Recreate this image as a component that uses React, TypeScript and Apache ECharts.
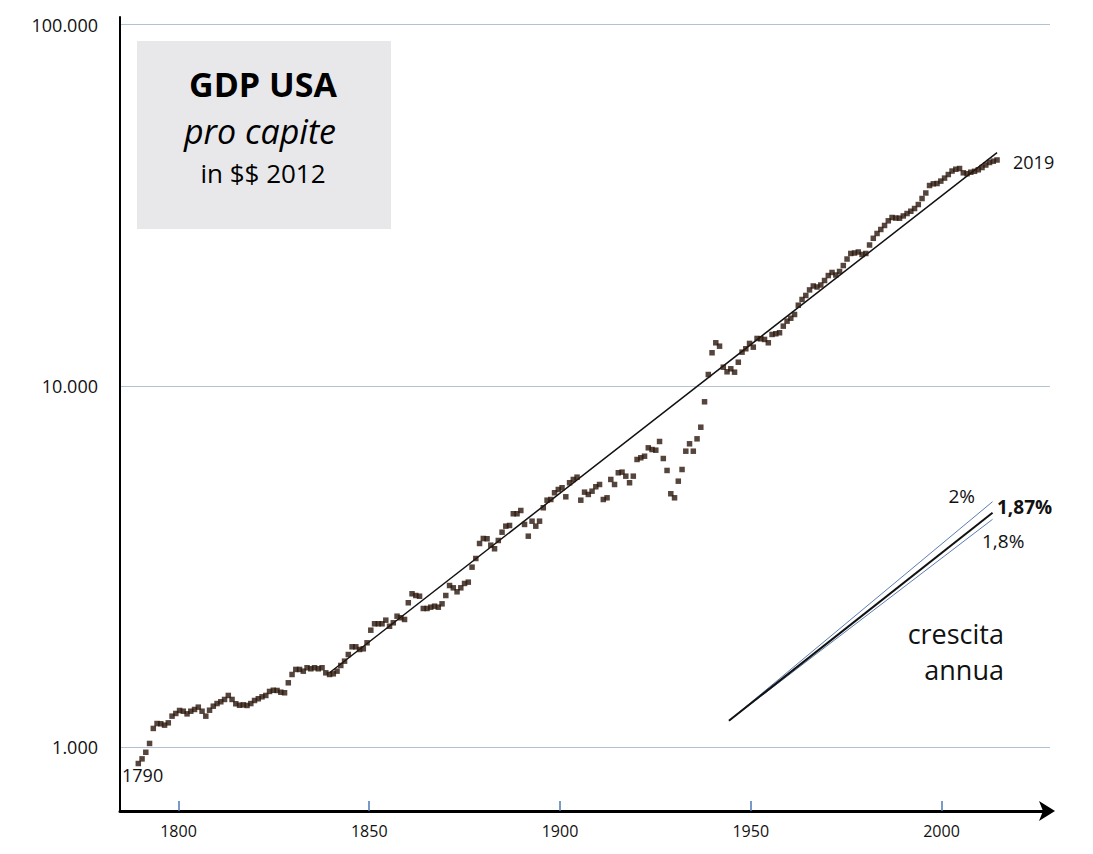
import React, { useEffect, useRef } from 'react';
import * as echarts from 'echarts';

const FONT = '"Open Sans", "Noto Sans", sans-serif';

// GDP per capita, 2012 dollars, one value a year from 1790
const firstYear = 1790;
const gdpPerCapita: number[] = [
  903, 930, 970, 1026, 1129, 1165, 1163, 1153, 1170, 1221,
  1242, 1266, 1260, 1239, 1260, 1274, 1293, 1260, 1221, 1268,
  1301, 1323, 1338, 1358, 1393, 1358, 1321, 1309, 1312, 1307,
  1323, 1349, 1364, 1381, 1393, 1429, 1440, 1438, 1422, 1417,
  1510, 1592, 1644, 1644, 1626, 1662, 1651, 1662, 1651, 1662,
  1609, 1592, 1599, 1626, 1686, 1733, 1808, 1899, 1899, 1867,
  1875, 1948, 2111, 2199, 2199, 2199, 2250, 2165, 2213, 2308,
  2285, 2260, 2514, 2662, 2633, 2621, 2424, 2424, 2444, 2460,
  2444, 2497, 2633, 2806, 2765, 2696, 2765, 2843, 2867, 3154,
  3333, 3667, 3786, 3779, 3628, 3546, 3738, 3941, 4095, 4113,
  4432, 4432, 4525, 4140, 3842, 4227, 4095, 4227, 4604, 4832,
  4853, 5066, 5173, 5230, 4937, 5399, 5514, 5595, 4832, 5086,
  5012, 5117, 5263, 5340, 4853, 4906, 5514, 5340, 5754, 5777,
  5631, 5399, 5631, 6262, 6330, 6394, 6745, 6672, 6644, 7023,
  6301, 5839, 5034, 4906, 5454, 5875, 6602, 6920, 6602, 7143,
  7691, 9043, 10760, 12357, 13169, 12887, 11272, 10947, 11158, 10920,
  11636, 12406, 12677, 13114, 12807, 13537, 13512, 13450, 13169, 13886,
  13948, 14037, 14640, 15114, 15400, 15770, 16730, 17350, 17800, 18440,
  18910, 18790, 19030, 19580, 20210, 20610, 20280, 20740, 21540, 22450,
  23260, 23330, 23480, 23110, 23260, 24550, 25620, 26420, 27100, 27800,
  28640, 29250, 29150, 29120, 29540, 30000, 30440, 30970, 31770, 33010,
  34190, 35860, 36250, 36320, 36880, 37590, 38460, 39320, 39780, 39960,
  38880, 38660, 39030, 39260, 39630, 40210, 40860, 41520, 41870, 42190,
];

// long run trend (about 1.87% a year)
const trendLine: number[][] = [[1841, 1610], [2019, 44200]];

// slope guides in the lower right
const rate2: number[][] = [[1947.5, 1186], [2017.8, 4786]];
const rate187: number[][] = [[1947.5, 1186], [2017.8, 4462]];
const rate18: number[][] = [[1947.5, 1186], [2017.8, 4278]];

const xTicks: number[] = [1800, 1850, 1900, 1950, 2000];

const App: React.FC = () => {
  const chartRef = useRef<HTMLDivElement | null>(null);

  useEffect(() => {
    const chart = echarts.init(chartRef.current!, null, { renderer: 'svg' });

    const points = gdpPerCapita.map((v, i) => [firstYear + i, v]);
    const dots = (n: number) =>
      String(Math.round(n)).replace(/\B(?=(\d{3})+(?!\d))/g, '.');

    const label = (
      x: number,
      y: number,
      t: string,
      size: number,
      extra: Record<string, any> = {}
    ) => ({
      type: 'text',
      x,
      y,
      z: 10,
      style: {
        text: t,
        fill: '#111',
        fontFamily: FONT,
        fontSize: size,
        lineHeight: size,
        textVerticalAlign: 'middle',
        ...extra,
      },
    });

    const option: any = {
      animation: false,
      grid: { left: 120, top: 17, width: 930, height: 794 },
      xAxis: [
        {
          type: 'value',
          min: 1784.67,
          max: 2028.44,
          axisLine: {
            lineStyle: { color: '#000', width: 3 },
            symbol: ['none', 'arrow'],
            symbolSize: [15, 16],
            symbolOffset: [0, 5],
          },
          axisTick: {
            customValues: xTicks,
            inside: true,
            length: 10,
            lineStyle: { color: '#4a78b5', width: 1.5 },
          },
          axisLabel: {
            customValues: xTicks,
            formatter: (v: number) => String(v),
            fontSize: 16,
            fontFamily: FONT,
            color: '#111',
            margin: 12,
          },
          splitLine: { show: false },
        },
        {
          type: 'value',
          min: 1785.12,
          max: 2033.12,
          show: false,
        },
      ],
      yAxis: {
        type: 'log',
        logBase: 10,
        min: 667.3,
        max: 104894,
        axisLine: { show: true, lineStyle: { color: '#000', width: 2 } },
        axisTick: { show: false },
        axisLabel: {
          formatter: (v: number) => dots(v),
          showMinLabel: false,
          showMaxLabel: false,
          fontSize: 18,
          fontFamily: FONT,
          color: '#111',
          margin: 22,
        },
        splitLine: {
          show: true,
          showMinLine: false,
          showMaxLine: false,
          lineStyle: { color: '#b0c2d4', width: 1.2 },
        },
      },
      series: [
        {
          type: 'line',
          xAxisIndex: 1,
          data: trendLine,
          symbol: 'none',
          lineStyle: { color: '#111', width: 1.5 },
          z: 2,
        },
        {
          type: 'scatter',
          xAxisIndex: 1,
          data: points,
          symbol: 'rect',
          symbolSize: 5.5,
          itemStyle: { color: '#2a170b' },
          z: 3,
        },
        {
          type: 'line',
          xAxisIndex: 1,
          data: rate2,
          symbol: 'none',
          lineStyle: { color: '#5b7db0', width: 1 },
        },
        {
          type: 'line',
          xAxisIndex: 1,
          data: rate18,
          symbol: 'none',
          lineStyle: { color: '#5b7db0', width: 1 },
        },
        {
          type: 'line',
          xAxisIndex: 1,
          data: rate187,
          symbol: 'none',
          lineStyle: { color: '#111', width: 2 },
        },
      ],
      graphic: [
        {
          type: 'rect',
          shape: { x: 137, y: 41, width: 254, height: 188 },
          style: { fill: '#e8e8ea' },
          z: 1,
        },
        label(263, 84, 'GDP USA', 34, { textAlign: 'center', fontWeight: 'bold', fill: '#000' }),
        label(260, 131, 'pro capite', 34, { textAlign: 'center', fontStyle: 'italic', fill: '#000' }),
        label(263, 173, 'in $$ 2012', 26, { textAlign: 'center', fill: '#000' }),
        label(1013, 162, '2019', 18),
        label(122, 775, '1790', 18),
        label(975, 496, '2%', 19, { textAlign: 'right' }),
        label(997, 507, '1,87%', 19, { fontWeight: 'bold' }),
        label(982, 541, '1,8%', 19),
        label(1004, 633, 'crescita', 27, { textAlign: 'right' }),
        label(1004, 669, 'annua', 27, { textAlign: 'right' }),
      ],
    };

    chart.setOption(option);

    return () => {
      chart.dispose();
    };
  }, []);

  return (
    <div
      ref={chartRef}
      style={{ position: 'absolute', left: 0, top: 0, width: 1093, height: 854 }}
    />
  );
};

export default App;
